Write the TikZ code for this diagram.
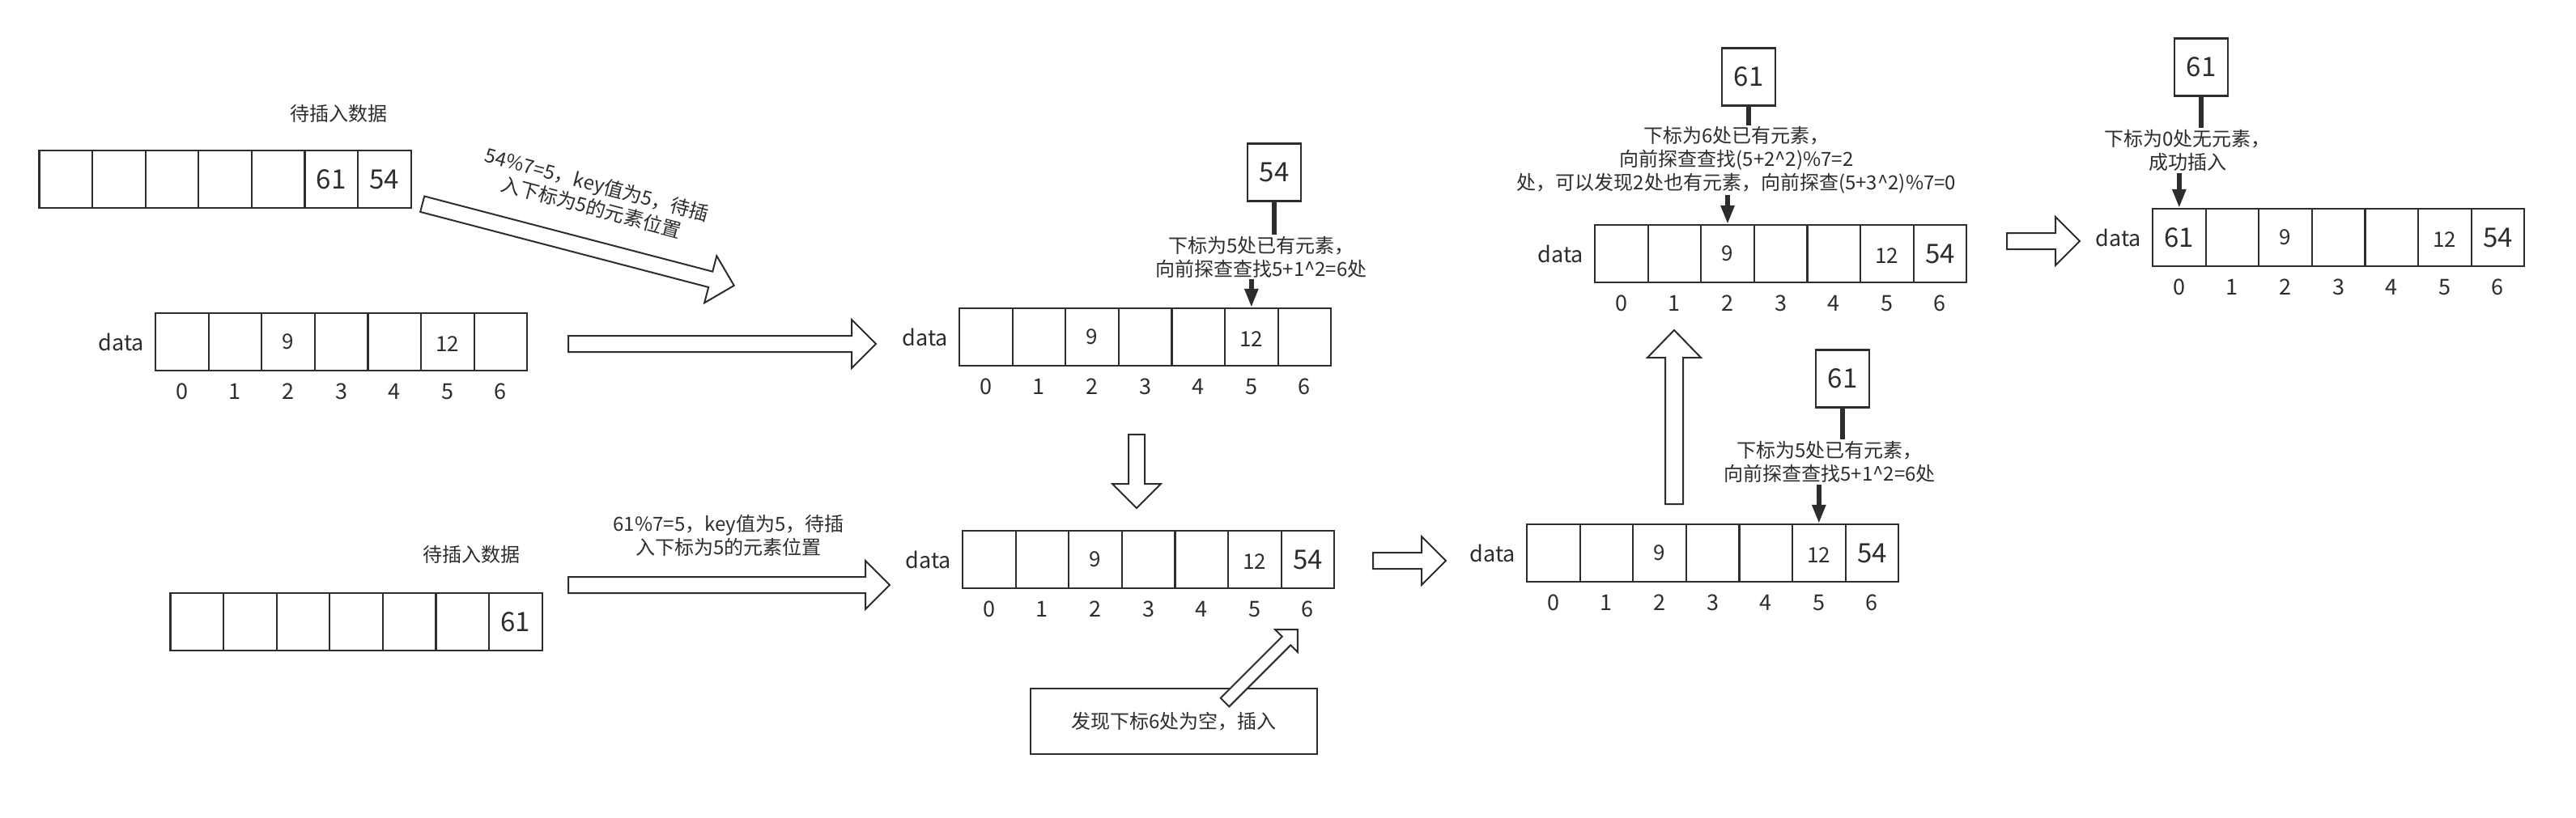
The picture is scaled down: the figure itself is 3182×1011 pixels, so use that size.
\documentclass[tikz,border=0pt]{standalone}
\usepackage{fontspec}
\setmainfont{Noto Sans CJK SC}
\usetikzlibrary{arrows.meta}
\definecolor{ink}{RGB}{45,45,45}
\pgfdeclarelayer{bg}
\pgfsetlayers{bg,main}

% seven cells: name, left x, top y
\newcommand{\cells}[3]{%
  \foreach \i in {0,...,6}{%
    \node[cell] (#1\i) at ({#2+32.8+65.6*\i},{#3+35.5}) {};
  }}
% data row with label and indices
\newcommand{\datarow}[3]{%
  \cells{#1}{#2}{#3}%
  \node[datalabel] (#1lab) at ({#2-42},{#3+35.5}) {data};
  \foreach \i in {0,...,6}{%
    \node[idx] (#1i\i) at ({#2+32.8+65.6*\i},{#3+71+26}) {\i};
  }}
% hollow block arrow: tail x, tail y, angle, length, shaft half, head half, head length
\newcommand{\blockarrow}[7]{%
  \begin{scope}[shift={(#1,#2)},rotate=#3]
    \draw[hollow] (0,-#5) -- ({#4-#7},-#5) -- ({#4-#7},-#6) -- (#4,0) -- ({#4-#7},#6) -- ({#4-#7},#5) -- (0,#5) -- cycle;
  \end{scope}}

\begin{document}
\begin{tikzpicture}[x=1pt,y=-1pt,
  every node/.style={text=ink},
  cell/.style={draw=ink,line width=2.2pt,minimum width=65.6pt,minimum height=71pt,inner sep=0pt},
  idx/.style={font=\fontsize{27pt}{30pt}\selectfont,inner sep=0pt},
  datalabel/.style={font=\fontsize{27pt}{30pt}\selectfont,inner sep=0pt},
  num/.style={font=\fontsize{26pt}{30pt}\selectfont,inner sep=0pt},
  bignum/.style={font=\fontsize{33pt}{36pt}\selectfont,inner sep=0pt},
  valbox/.style={draw=ink,line width=2.2pt,minimum width=66pt,minimum height=71pt,inner sep=0pt,font=\fontsize{33pt}{36pt}\selectfont},
  lbl/.style={font=\fontsize{24pt}{29pt}\selectfont,align=center,inner sep=0pt},
  note/.style={lbl,fill=white,inner sep=2pt},
  conn/.style={draw=ink,line width=5.5pt,-{Triangle[width=16pt,length=23pt]}},
  hollow/.style={draw=ink,fill=white,line width=2pt,line join=miter},
]
\useasboundingbox (0,0) rectangle (3182,1011);
\begin{pgfonlayer}{bg}
  \fill[white] (0,0) rectangle (3182,1011);
\end{pgfonlayer}

% ---------- source row A ----------
\node[lbl] (srcA) at (418,140) {待插入数据};
\cells{A}{48.5}{186}
\node[bignum] (A5v) at (A5) {61};
\node[bignum] (A6v) at (A6) {54};

% ---------- source row E ----------
\node[lbl] (srcE) at (582,685) {待插入数据};
\cells{E}{210.5}{733}
\node[bignum] (E6v) at (E6) {61};

% ---------- data row B ----------
\datarow{B}{192}{387}
\node[num] (B2v) at (B2) {9};
\node[num] (B5v) at ([yshift=-3pt]B5.center) {12};

% ---------- data row C ----------
\datarow{C}{1185}{381}
\node[num] (C2v) at (C2) {9};
\node[num] (C5v) at ([yshift=-3pt]C5.center) {12};
\node[valbox] (vC) at (1574,213) {54};
\node[note] (nC) at (1558,317.5) {下标为5处已有元素，\\向前探查查找5+1\textasciicircum{}2=6处};

% ---------- data row D ----------
\datarow{D}{1189}{656}
\node[num] (D2v) at (D2) {9};
\node[num] (D5v) at ([yshift=-3pt]D5.center) {12};
\node[bignum] (D6v) at (D6) {54};
\node[lbl,draw=ink,line width=2.2pt,minimum width=354pt,minimum height=81pt] (boxD) at (1450,891.5) {发现下标6处为空，插入};

% ---------- data row G ----------
\datarow{G}{1970}{278}
\node[num] (G2v) at (G2) {9};
\node[num] (G5v) at ([yshift=-3pt]G5.center) {12};
\node[bignum] (G6v) at (G6) {54};
\node[valbox] (vG) at (2160,95) {61};
\node[note] (nG) at (2145,198) {下标为6处已有元素，\\向前探查查找(5+2\textasciicircum{}2)\%7=2\\处，可以发现2处也有元素，向前探查(5+3\textasciicircum{}2)\%7=0};

% ---------- data row F ----------
\datarow{F}{1886}{648}
\node[num] (F2v) at (F2) {9};
\node[num] (F5v) at ([yshift=-3pt]F5.center) {12};
\node[bignum] (F6v) at (F6) {54};
\node[valbox] (vF) at (2276,468) {61};
\node[note] (nF) at (2260,571) {下标为5处已有元素，\\向前探查查找5+1\textasciicircum{}2=6处};

% ---------- data row H ----------
\datarow{H}{2659}{258}
\node[bignum] (H0v) at (H0) {61};
\node[num] (H2v) at (H2) {9};
\node[num] (H5v) at ([yshift=-3pt]H5.center) {12};
\node[bignum] (H6v) at (H6) {54};
\node[valbox] (vH) at (2719,83) {61};
\node[note] (nH) at (2702,186) {下标为0处无元素，\\成功插入};

% ---------- probe connectors ----------
\begin{pgfonlayer}{bg}
  \draw[conn] (vC.south) |- (nC.center) -| (C5.north);
  \draw[conn] (vG.south) |- (nG.center) -| (G2.north);
  \draw[conn] (vF.south) |- (nF.center) -| (F5.north);
  \draw[conn] (vH.south) |- (nH.center) -| (H0.north);
\end{pgfonlayer}

% ---------- hollow block arrows ----------
\blockarrow{521.7}{252.2}{-14.66}{398}{10}{30}{30}
\blockarrow{702}{425}{0}{380}{10}{30}{30}
\blockarrow{702}{723}{0}{397}{10}{30}{30}
\blockarrow{1404}{537}{-90}{91}{10}{30}{30}
\blockarrow{1696}{693}{0}{90}{10}{30}{30}
\blockarrow{1513}{868}{45}{127}{7.5}{19.5}{19.5}
\blockarrow{2068}{623}{90}{215}{11}{33}{34}
\blockarrow{2479}{298}{0}{90}{10}{30}{30}

% ---------- arrow labels ----------
\node[lbl,rotate=-15] (t1) at (734,242) {54\%7=5，key值为5，待插\\入下标为5的元素位置};
\node[lbl] (t2) at (900,662) {61\%7=5，key值为5，待插\\入下标为5的元素位置};
\end{tikzpicture}
\end{document}
